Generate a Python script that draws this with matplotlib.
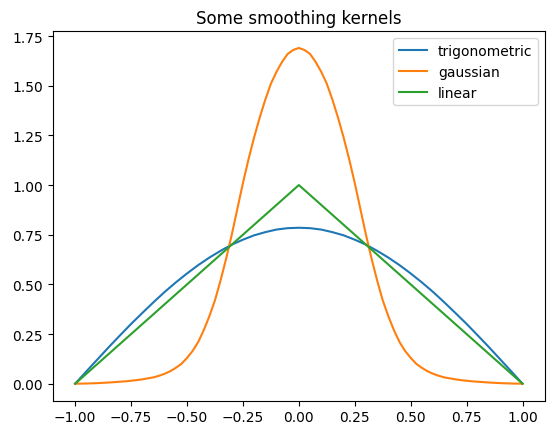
import matplotlib.pyplot as plt
import numpy as np

# values (curves are symmetric about x = 0)
x_half = [0.0, 0.05, 0.1, 0.15, 0.2, 0.25, 0.3, 0.35, 0.4, 0.45, 0.5,
          0.55, 0.6, 0.65, 0.7, 0.75, 0.8, 0.85, 0.9, 0.95, 1.0]
trig_half = [0.785, 0.783, 0.776, 0.763, 0.747, 0.725, 0.700, 0.669, 0.635, 0.597, 0.555,
             0.510, 0.462, 0.410, 0.356, 0.301, 0.243, 0.184, 0.123, 0.062, 0.0]
linear_half = [1.0, 0.95, 0.9, 0.85, 0.8, 0.75, 0.7, 0.65, 0.6, 0.55, 0.5,
               0.45, 0.4, 0.35, 0.3, 0.25, 0.2, 0.15, 0.1, 0.05, 0.0]

gx_half = [0.0, 0.025, 0.05, 0.075, 0.1, 0.125, 0.15, 0.175, 0.2, 0.225, 0.25,
           0.275, 0.3, 0.325, 0.35, 0.375, 0.4, 0.425, 0.45, 0.475, 0.5,
           0.525, 0.55, 0.575, 0.6, 0.625, 0.65, 0.675, 0.7, 0.725, 0.75,
           0.775, 0.8, 0.825, 0.85, 0.875, 0.9, 0.925, 0.95, 0.975, 1.0]
gauss_half = [1.69, 1.68, 1.66, 1.62, 1.57, 1.51, 1.43, 1.34, 1.24, 1.13, 1.01,
              0.88, 0.75, 0.63, 0.52, 0.42, 0.34, 0.27, 0.21, 0.165, 0.13,
              0.10, 0.08, 0.063, 0.05, 0.04, 0.032, 0.027, 0.022, 0.018, 0.015,
              0.012, 0.010, 0.008, 0.006, 0.0045, 0.003, 0.002, 0.001, 0.0005, 0.0]


def mirror(vals, neg=False):
    vals = np.asarray(vals)
    left = -vals[:0:-1] if neg else vals[:0:-1]
    return np.concatenate([left, vals])


x = mirror(x_half, neg=True)
gx = mirror(gx_half, neg=True)

fig, ax = plt.subplots(figsize=(5.56, 4.35), dpi=100)
ax.plot(x, mirror(trig_half), label="trigonometric")
ax.plot(gx, mirror(gauss_half), label="gaussian")
ax.plot(x, mirror(linear_half), label="linear")
ax.set_title("Some smoothing kernels")
ax.legend(loc="upper right")
fig.subplots_adjust(left=0.095, right=0.98, bottom=0.077, top=0.926)
fig.savefig("out.png", dpi=100)
